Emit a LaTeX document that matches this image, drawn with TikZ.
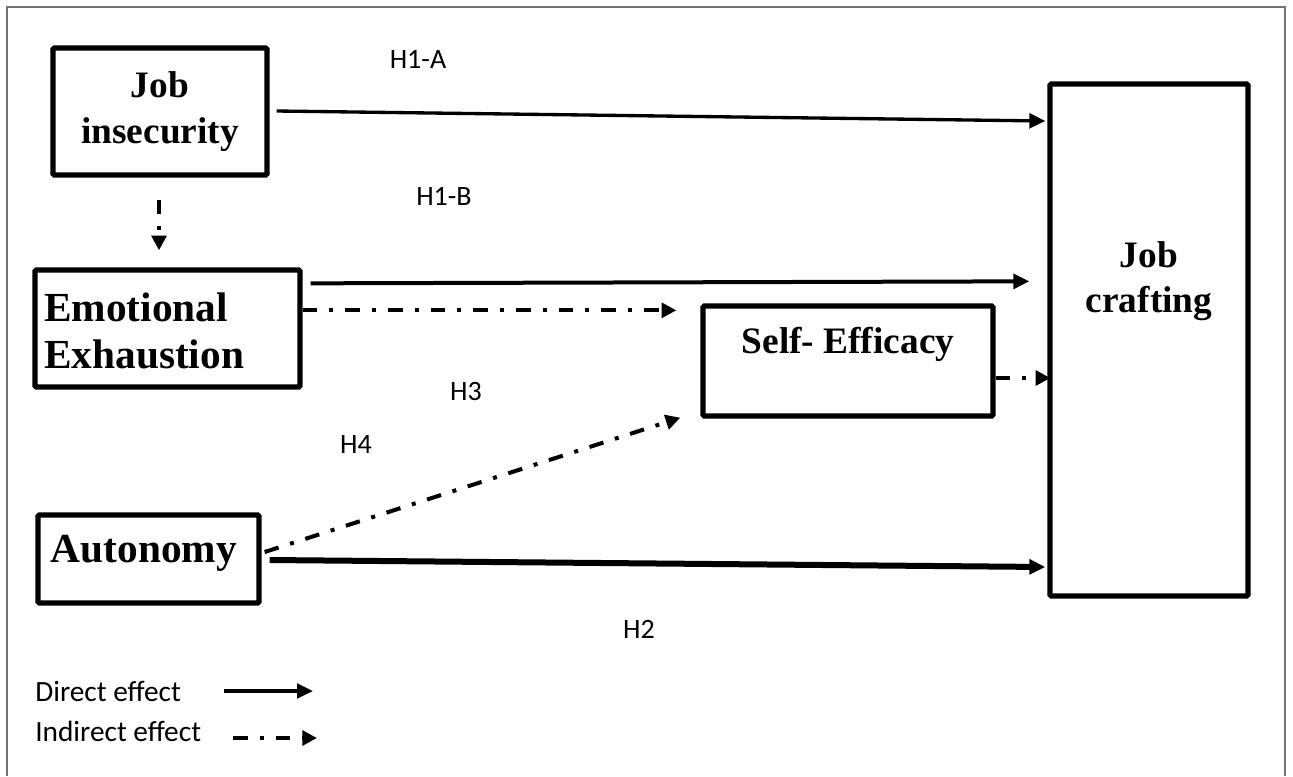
\documentclass[tikz,border=0pt]{standalone}
\usepackage{fontspec}
\setmainfont{Liberation Serif}
\newfontfamily\hypfont{Carlito}
\usetikzlibrary{calc,arrows.meta}
\tikzset{
	box/.style={draw, line width=4pt, rounded corners=1pt, inner sep=0pt},
	boxtext/.style={font=\fontsize{28}{34}\selectfont\bfseries, align=center, inner sep=0pt},
	bigtext/.style={boxtext, font=\fontsize{31}{35}\selectfont\bfseries},
	hyp/.style={font=\hypfont\fontsize{21}{25}\selectfont, inner sep=0pt},
	direct/.style={line width=3pt, -{Triangle[length=12pt,width=11pt]}},
	indirect/.style={line width=3pt, dash pattern=on 11pt off 9pt on 3pt off 9pt, -{Triangle[length=11pt,width=11pt]}},
}

\begin{document}
\begin{tikzpicture}[x=0.75pt,y=-0.75pt]
		%%%%% START %%%%%
		\useasboundingbox (0,0) rectangle (1293,776);
		\draw[line width=1.2pt, color=black!55] (7,776) -- (7,7) -- (1285,7) -- (1285,776);
		
		% boxes
		\node[box, boxtext, minimum width=160.5pt, minimum height=95.25pt] (ji) at (160,111.5) {Job\\insecurity};
		\node[box, minimum width=198.75pt, minimum height=87.75pt] (ee) at (167.5,328.5) {};
		\node[bigtext, align=left, anchor=west] (eetext) at (44,331) {Emotional\\Exhaustion};
		\node[box, minimum width=217.5pt, minimum height=82.5pt] (se) at (848,361) {};
		\node[boxtext] (setext) at (848,344) {Self- Efficacy};
		\node[box, minimum width=165.75pt, minimum height=66pt] (aut) at (148.5,559) {};
		\node[bigtext] (auttext) at (144,553) {Autonomy};
		\node[box, minimum width=148.5pt, minimum height=384pt] (jc) at (1149,340) {};
		\node[boxtext] (jctext) at (1149,281) {Job\\crafting};
		
		% hypotheses
		\node[hyp] (h1a) at (418,59) {H1-A};
		\node[hyp] (h1b) at (444,196) {H1-B};
		\node[hyp] (h3) at (466,392) {H3};
		\node[hyp] (h4) at (356,445) {H4};
		\node[hyp] (h2) at (639,629) {H2};
		
		% paths
		\draw[direct, line width=2.5pt] ($(ji.east)+(7,-0.5)$) -- ($(jc.west |- ji.east)+(-2,9.5)$);
		\draw[indirect] ($(ji.south)+(-1,22)$) -- ($(ji.south |- ee.north)+(-1,-17)$);
		\draw[direct] ($(ee.north east)+(8,16)$) -- ($(jc.west |- ee.north east)+(-18,14)$);
		\draw[indirect] ($(ee.north east)+(0,43)$) -- ($(se.west |- ee.north east)+(-24,43)$);
		\draw[indirect] ($(se.east)+(0,17)$) -- ($(jc.west |- se.east)+(3,17)$);
		\draw[indirect] ($(aut.east)+(3,-7)$) -- ($(se.south west)+(-20,-1)$);
		\draw[direct, line width=4.5pt] ($(aut.east)+(8,1)$) -- ($(jc.west |- aut.east)+(-2,8)$);
		
		% legend
		\node[hyp, font=\hypfont\fontsize{22}{26}\selectfont, anchor=west] (dirtxt) at (35,691) {Direct effect};
		\node[hyp, font=\hypfont\fontsize{22}{26}\selectfont, anchor=west] (indtxt) at (35,731) {Indirect effect};
		\coordinate (dirA) at (224,691);
		\coordinate (dirB) at (313,691);
		\coordinate (indA) at (233,738);
		\coordinate (indB) at (317,738);
		\draw[direct, line width=2.5pt] (dirA) -- (dirB);
		\draw[indirect] (indA) -- (indB);
		
		%%%%% END %%%%%
\end{tikzpicture}
\end{document}
